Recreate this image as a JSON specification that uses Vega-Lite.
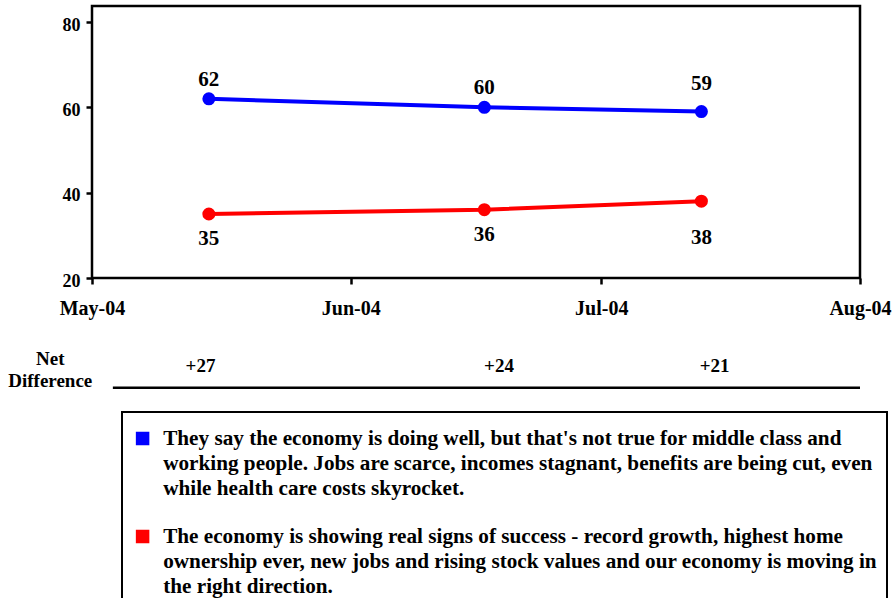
{
  "$schema": "https://vega.github.io/schema/vega-lite/v6.json",
  "width": 768,
  "height": 272,
  "autosize": {"type": "none"},
  "padding": {"left": 92, "top": 6, "right": 34, "bottom": 320},
  "background": "white",
  "config": {
    "font": "Liberation Serif",
    "view": {"stroke": "black", "strokeWidth": 2.5},
    "axis": {"labelFont": "Liberation Serif", "labelFontWeight": "bold", "labelColor": "black", "domain": false, "grid": false, "tickColor": "black", "tickWidth": 2.5, "tickSize": 6, "title": null},
    "text": {"font": "Liberation Serif", "fontWeight": "bold", "color": "black"}
  },
  "datasets": {
    "poll": [
      {"date": "2004-05-15", "series": "Not true for middle class", "value": 62},
      {"date": "2004-06-17", "series": "Not true for middle class", "value": 60},
      {"date": "2004-07-13", "series": "Not true for middle class", "value": 59},
      {"date": "2004-05-15", "series": "Real signs of success", "value": 35},
      {"date": "2004-06-17", "series": "Real signs of success", "value": 36},
      {"date": "2004-07-13", "series": "Real signs of success", "value": 38}
    ],
    "net": [
      {"date": "2004-05-14", "diff": "+27"},
      {"date": "2004-06-18T18:00", "diff": "+24"},
      {"date": "2004-07-14T14:00", "diff": "+21"}
    ]
  },
  "layer": [
    {
      "data": {"name": "poll"},
      "encoding": {
        "x": {"field": "date", "type": "temporal",
          "scale": {"type": "utc", "domain": [{"year": 2004, "month": 5, "date": 1, "utc": true}, {"year": 2004, "month": 8, "date": 1, "utc": true}]},
          "axis": {"values": [{"year": 2004, "month": 5, "date": 1, "utc": true}, {"year": 2004, "month": 6, "date": 1, "utc": true}, {"year": 2004, "month": 7, "date": 1, "utc": true}, {"year": 2004, "month": 8, "date": 1, "utc": true}], "format": "%b-%y", "labelFontSize": 20, "labelPadding": 14, "labelFlush": false, "labelOverlap": false}
        },
        "y": {"field": "value", "type": "quantitative",
          "scale": {"domain": [20, 83.75], "nice": false, "zero": false},
          "axis": {"values": [20, 40, 60, 80], "labelFontSize": 18, "labelPadding": 6, "labelOffset": 3}
        }
      },
      "layer": [
        {
          "mark": {"type": "line", "strokeWidth": 4},
          "encoding": {
            "color": {"field": "series", "type": "nominal",
              "scale": {"domain": ["Not true for middle class", "Real signs of success"], "range": ["#0000FF", "#FF0000"]},
              "legend": {
                "title": " ",
                "titleFontSize": 1,
                "titlePadding": 5,
                "orient": "none",
                "legendX": 30,
                "legendY": 406,
                "direction": "vertical",
                "strokeColor": "black",
                "fillColor": "white",
                "padding": 10,
                "symbolType": "square",
                "symbolSize": 144,
                "symbolStrokeColor": "black",
                "symbolStrokeWidth": 1.5,
                "labelFont": "Liberation Serif",
                "labelFontWeight": "bold",
                "labelFontSize": 21.2,
                "labelColor": "black",
                "labelLimit": 900,
                "labelOffset": 10,
                "labelBaseline": "top",
                "rowPadding": 26,
                "labelExpr": "datum.value === 'Not true for middle class' ? [\"They say the economy is doing well, but that's not true for middle class and\", \"working people. Jobs are scarce, incomes stagnant, benefits are being cut, even\", \"while health care costs skyrocket.\"] : [\"The economy is showing real signs of success - record growth, highest home\", \"ownership ever, new jobs and rising stock values and our economy is moving in\", \"the right direction.\"]",
                "encode": {
                  "legend": {"update": {"strokeWidth": {"value": 2}}},
                  "labels": {"update": {"lineHeight": {"value": 25}, "dy": {"value": -11}}},
                  "symbols": {"update": {"fill": {"scale": "color", "field": "value"}, "stroke": {"value": "black"}, "strokeWidth": {"value": 1.5}, "opacity": {"value": 1}}}
                }
              }
            }
          }
        },
        {
          "mark": {"type": "point", "filled": true, "size": 170, "opacity": 1},
          "encoding": {"color": {"field": "series", "type": "nominal"}}
        },
        {
          "transform": [{"filter": "datum.series === 'Not true for middle class'"}, {"filter": "month(datum.date) < 6"}],
          "mark": {"type": "text", "fontSize": 21, "dy": -19},
          "encoding": {"text": {"field": "value", "type": "quantitative"}}
        },
        {
          "transform": [{"filter": "datum.series === 'Not true for middle class'"}, {"filter": "month(datum.date) >= 6"}],
          "mark": {"type": "text", "fontSize": 21, "dy": -28},
          "encoding": {"text": {"field": "value", "type": "quantitative"}}
        },
        {
          "transform": [{"filter": "datum.series === 'Real signs of success'"}, {"filter": "month(datum.date) < 6"}],
          "mark": {"type": "text", "fontSize": 21, "dy": 25},
          "encoding": {"text": {"field": "value", "type": "quantitative"}}
        },
        {
          "transform": [{"filter": "datum.series === 'Real signs of success'"}, {"filter": "month(datum.date) >= 6"}],
          "mark": {"type": "text", "fontSize": 21, "dy": 37},
          "encoding": {"text": {"field": "value", "type": "quantitative"}}
        }
      ]
    },
    {
      "data": {"name": "net"},
      "mark": {"type": "text", "fontSize": 19, "clip": false},
      "encoding": {
        "x": {"field": "date", "type": "temporal"},
        "y": {"datum": -0.6},
        "text": {"field": "diff", "type": "nominal"}
      }
    },
    {
      "data": {"values": [{"label": "Net Difference"}]},
      "mark": {"type": "text", "fontSize": 19, "text": ["Net", "Difference"], "lineHeight": 22, "baseline": "middle", "clip": false},
      "encoding": {
        "x": {"datum": {"year": 2004, "month": 4, "date": 26, "utc": true}},
        "y": {"datum": 1.0}
      }
    },
    {
      "data": {"values": [{"label": "rule"}]},
      "mark": {"type": "rule", "strokeWidth": 2.5, "color": "black", "clip": false},
      "encoding": {
        "x": {"datum": {"year": 2004, "month": 5, "date": 3, "hours": 12, "utc": true}},
        "x2": {"datum": {"year": 2004, "month": 8, "date": 1, "utc": true}},
        "y": {"datum": -5.7}
      }
    }
  ]
}
